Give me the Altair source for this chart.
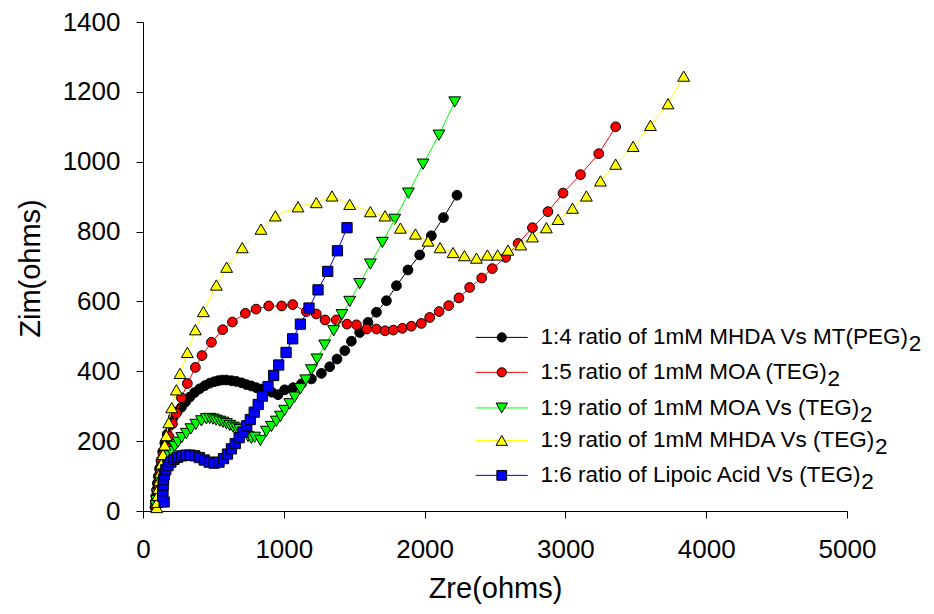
import altair as alt
import pandas as pd

# ---------------- data ----------------
series_names = [
    "1:4 ratio of 1mM MHDA Vs MT(PEG)",
    "1:5 ratio of 1mM MOA (TEG)",
    "1:9 ratio of 1mM MOA Vs (TEG)",
    "1:9 ratio of 1mM MHDA Vs (TEG)",
    "1:6 ratio of Lipoic Acid Vs (TEG)",
]
subscript = "2"

black_x = [85, 88, 92, 97, 103, 110, 118, 128, 140, 155, 172, 192, 215, 242, 273, 302, 332, 366, 403, 440,
           474, 505, 533, 562, 592, 628, 663, 700, 734, 770, 805, 840, 876, 915, 959, 1006, 1066, 1125, 1196, 1267,
           1326, 1378, 1433, 1480, 1539, 1598, 1658, 1729, 1800, 1882, 1965, 2048, 2134, 2230]
black_y = [10, 25, 42, 60, 80, 100, 122, 145, 170, 195, 220, 245, 268, 284, 297, 312, 326, 339, 350, 359,
           366, 370, 373, 375, 375, 373, 371, 367, 362, 358, 353, 349, 345, 340, 333, 347, 353, 364, 378, 394,
           413, 435, 459, 486, 511, 540, 569, 602, 645, 690, 733, 788, 840, 904]

red_x = [90, 94, 99, 105, 112, 120, 130, 143, 161, 185, 209, 237, 273, 315, 372, 419, 486, 566, 635, 727,
         803, 893, 985, 1063, 1160, 1231, 1293, 1373, 1449, 1516, 1589, 1658, 1719, 1778, 1842, 1906, 1977, 2036, 2103, 2171,
         2244, 2320, 2406, 2481, 2576, 2664, 2766, 2876, 2983, 3107, 3237, 3357]
red_y = [15, 35, 55, 76, 97, 118, 140, 162, 183, 213, 250, 280, 324, 365, 411, 445, 483, 519, 541, 566,
         578, 587, 587, 591, 571, 564, 547, 547, 535, 533, 521, 521, 516, 518, 523, 529, 537, 554, 571, 588,
         610, 640, 667, 694, 726, 766, 811, 857, 910, 963, 1023, 1100]

green_x = [92, 96, 102, 110, 120, 133, 148, 165, 183, 202, 225, 249, 275, 308, 340, 375, 415, 450, 474, 498,
           520, 545, 568, 592, 616, 640, 663, 687, 716, 746, 770, 793, 834, 876, 912, 947, 976, 1006, 1042, 1077,
           1118, 1156, 1196, 1236, 1290, 1354, 1413, 1468, 1539, 1615, 1700, 1788, 1885, 1989, 2102, 2214]
green_y = [15, 30, 48, 67, 86, 105, 125, 145, 158, 170, 185, 197, 210, 222, 235, 248, 258, 264, 265, 263,
           260, 257, 254, 250, 245, 240, 237, 233, 225, 213, 208, 211, 202, 228, 242, 257, 271, 288, 307, 326,
           350, 375, 404, 435, 475, 516, 562, 600, 651, 707, 769, 835, 910, 993, 1076, 1171]

yellow_x = [98, 102, 106, 111, 117, 124, 131, 142, 154, 166, 183, 204, 237, 263, 315, 372, 429, 521, 594, 705,
            838, 940, 1101, 1231, 1342, 1468, 1615, 1719, 1828, 1935, 2024, 2110, 2202, 2283, 2368, 2446, 2519, 2592, 2683, 2766,
            2865, 2948, 3050, 3149, 3249, 3357, 3481, 3604, 3729, 3840]
yellow_y = [10, 25, 45, 65, 88, 111, 135, 162, 189, 216, 253, 296, 347, 394, 454, 519, 571, 647, 698, 754,
            807, 845, 871, 883, 902, 878, 857, 845, 810, 793, 773, 754, 740, 731, 724, 733, 733, 747, 762, 785,
            811, 835, 867, 902, 945, 993, 1044, 1104, 1166, 1245]

blue_x = [150, 140, 141, 143, 146, 152, 162, 178, 198, 220, 246, 276, 305, 335, 368, 400, 435, 470, 505, 540,
          572, 600, 628, 655, 683, 710, 737, 762, 790, 818, 848, 888, 928, 964, 1016, 1063, 1118, 1179, 1243, 1312,
          1381, 1449]
blue_y = [26, 42, 58, 74, 90, 104, 118, 130, 140, 148, 154, 158, 160, 160, 158, 153, 146, 140, 137, 140,
          150, 163, 178, 193, 210, 226, 244, 262, 283, 305, 329, 356, 388, 418, 454, 493, 535, 581, 633, 686,
          745, 811]

x_ticks = [0, 1000, 2000, 3000, 4000, 5000]
y_ticks = [0, 200, 400, 600, 800, 1000, 1200, 1400]

# ---------------- styles ----------------
line_colors = ["#000000", "#FF0000", "#00FF00", "#FFFF00", "#0000FF"]
fill_colors = ["#000000", "#FF0000", "#00FF00", "#FFFF00", "#0000FF"]
shapes = ["circle", "circle", "triangle-down", "triangle-up", "square"]
sizes = [95, 95, 140, 140, 105]
FONT = "Liberation Sans"
LEG_FS = 22.5

all_x = [black_x, red_x, green_x, yellow_x, blue_x]
all_y = [black_y, red_y, green_y, yellow_y, blue_y]

rows = []
for name, xs, ys in zip(series_names, all_x, all_y):
    for i, (xv, yv) in enumerate(zip(xs, ys)):
        rows.append({"series": name, "zre": xv, "zim": yv, "idx": i})
df = pd.DataFrame(rows)

X_DOM = [0, 5000]
Y_DOM = [0, 1400]
W, H = 704, 489

x_enc = alt.X("zre:Q", scale=alt.Scale(domain=X_DOM, nice=False, zero=False),
              axis=alt.Axis(values=x_ticks, title="Zre(ohms)", labelFlush=False, labelOverlap=False,
                            labelPadding=18, titleY=86, titleBaseline="alphabetic", format="d"))
y_enc = alt.Y("zim:Q", scale=alt.Scale(domain=Y_DOM, nice=False, zero=False),
              axis=alt.Axis(values=y_ticks, title="Zim(ohms)", labelFlush=False, labelOverlap=False,
                            labelPadding=16, titleAngle=270, titleX=-104, titleY=246,
                            titleAlign="center", titleBaseline="alphabetic", format="d"))

layers = []
for k, name in enumerate(series_names):
    base = alt.Chart(df).transform_filter(alt.datum.series == name)
    layers.append(base.mark_line(color=line_colors[k], strokeWidth=1).encode(
        x=x_enc, y=y_enc, order=alt.Order("idx:Q")))
    layers.append(base.mark_point(shape=shapes[k], filled=True, fill=fill_colors[k], stroke="black",
                                  strokeWidth=1, size=sizes[k], opacity=1).encode(x=x_enc, y=y_enc))

# ---------------- legend (drawn in the chart's own scales) ----------------
AW = {'0': 556, '1': 556, '2': 556, '4': 556, '5': 556, '6': 556, '9': 556, ':': 278, ' ': 278, 'r': 333,
      'a': 556, 't': 278, 'i': 222, 'o': 556, 'f': 278, 'm': 833, 'M': 833, 'H': 722, 'D': 722, 'A': 667,
      'V': 667, 's': 500, 'T': 611, '(': 333, ')': 333, 'P': 667, 'E': 667, 'G': 778, 'O': 778, 'L': 556,
      'p': 556, 'c': 500, 'd': 556}


def text_w(s, fs):
    return sum(AW.get(c, 556) for c in s) / 1000.0 * fs


px_per_x = W / (X_DOM[1] - X_DOM[0])
leg_row_y = [497, 397, 295, 202, 102]
leg_line_x0, leg_line_x1, leg_mark_x, leg_text_x = 2363, 2732, 2548, 2823
leg_rows = []
for k, name in enumerate(series_names):
    leg_rows.append({
        "row": k, "label": name, "sub": subscript, "ly": leg_row_y[k],
        "x0": leg_line_x0, "x1": leg_line_x1, "mx": leg_mark_x, "tx": leg_text_x,
        "sx": leg_text_x + (text_w(name, LEG_FS) - 0.5) / px_per_x,
    })
leg = pd.DataFrame(leg_rows)

for k in range(len(series_names)):
    lb = alt.Chart(leg).transform_filter(alt.datum.row == k)
    layers.append(lb.mark_rule(color=line_colors[k], strokeWidth=1).encode(
        x=alt.X("x0:Q", scale=alt.Scale(domain=X_DOM, nice=False, zero=False)), x2="x1:Q",
        y=alt.Y("ly:Q", scale=alt.Scale(domain=Y_DOM, nice=False, zero=False))))
    layers.append(lb.mark_point(shape=shapes[k], filled=True, fill=fill_colors[k], stroke="black",
                                strokeWidth=1, size=sizes[k] - 10, opacity=1).encode(
        x=alt.X("mx:Q"), y=alt.Y("ly:Q")))

texts = alt.Chart(leg).mark_text(align="left", baseline="middle", font=FONT, fontSize=LEG_FS,
                                 color="black").encode(x="tx:Q", y="ly:Q", text="label:N")
subs = alt.Chart(leg).mark_text(align="left", baseline="middle", font=FONT, fontSize=LEG_FS,
                                color="black", dy=7).encode(x="sx:Q", y="ly:Q", text="sub:N")
layers += [texts, subs]

chart = alt.layer(*layers).properties(
    width=W, height=H,
    padding={"left": 135, "top": 14, "right": 79, "bottom": 95},
    autosize=alt.AutoSizeParams(type="none"),
    background="white",
).configure_view(stroke=None).configure_axis(
    grid=False, domainColor="black", domainWidth=1, tickColor="black", tickWidth=1, tickSize=7,
    labelColor="black", titleColor="black", labelFont=FONT, titleFont=FONT,
    labelFontSize=26, titleFontSize=29, titleFontWeight="normal",
)

chart.save("out.html", embed_options={"renderer": "svg", "actions": False})
